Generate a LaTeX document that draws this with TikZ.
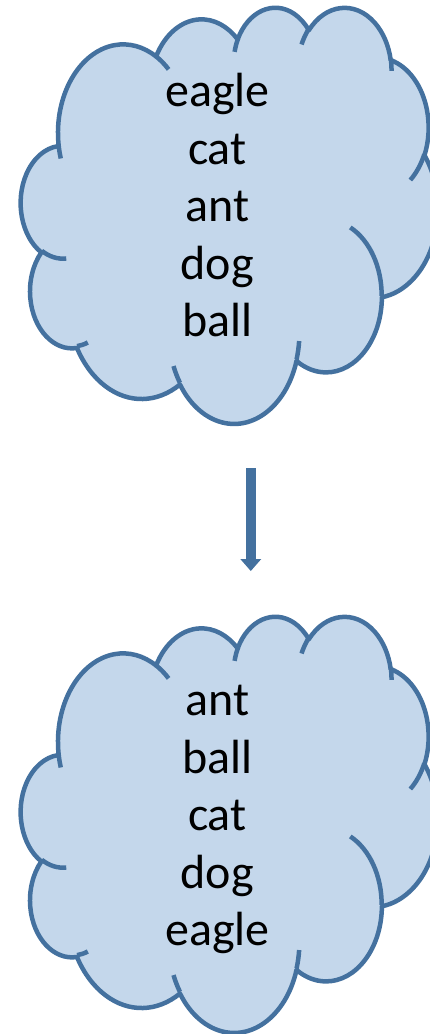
\documentclass[tikz,border=0pt]{standalone}
\usepackage{fontspec}
\setmainfont{Carlito}
\usetikzlibrary{arrows.meta}

\definecolor{cloudfill}{HTML}{C4D7EB}
\definecolor{cloudline}{HTML}{44719F}

\makeatletter
% DrawingML arc angles are "visual" angles; convert to the ellipse parameter
\newcommand\cloudparam[3]{% wR, hR, angle -> \cloudres
  \pgfmathsetmacro\cl@a{#3}%
  \pgfmathsetmacro\cl@t{atan2((#1)*sin(\cl@a),(#2)*cos(\cl@a))}%
  \pgfmathsetmacro\cl@d{\cl@t-\cl@a}%
  \pgfmathsetmacro\cloudres{\cl@a+\cl@d-360*round(\cl@d/360)}%
}
% elliptic arc from the current point: wR, hR, start angle, sweep
\newcommand\cloudarc[4]{%
  \cloudparam{#1}{#2}{#3}\let\cl@s\cloudres
  \cloudparam{#1}{#2}{#3+#4}\let\cl@e\cloudres
  \pgfpatharcaxes{\cl@s}{\cl@e}{\pgfpointxy{#1}{0}}{\pgfpointxy{0}{#2}}%
}
\makeatother

% outline of the cloud, in a 43.2 x 43.2 box (y pointing down)
\newcommand\cloudoutline{%
  \pgfpathmoveto{\pgfpointxy{3.900}{14.370}}%
  \cloudarc{6.753}{9.190}{-190.48748}{123.78053}%
  \cloudarc{5.333}{7.267}{-144.10238}{89.94523}%
  \cloudarc{4.365}{5.945}{-145.80792}{99.72302}%
  \cloudarc{4.857}{6.595}{-130.98607}{117.24173}%
  \cloudarc{5.333}{7.273}{-78.70888}{109.02692}%
  \cloudarc{6.775}{9.220}{-46.26725}{130.269}%
  \cloudarc{5.785}{7.867}{0.62502}{114.03333}%
  \cloudarc{6.752}{9.215}{22.4516}{115.17255}%
  \cloudarc{7.720}{10.543}{66.24263}{75.71102}%
  \cloudarc{4.360}{5.918}{-274.94208}{146.73557}%
  \cloudarc{4.345}{5.945}{-246.8285}{152.51885}%
  \pgfpathclose
}
% the short inner strokes between the puffs
\newcommand\cloudcreases{%
  \pgfpathmoveto{\pgfpointxy{4.693}{26.177}}\cloudarc{4.345}{5.945}{86.742}{26.4295}%
  \pgfpathmoveto{\pgfpointxy{6.928}{34.899}}\cloudarc{4.360}{5.918}{73.61047}{11.44747}%
  \pgfpathmoveto{\pgfpointxy{16.478}{39.090}}\cloudarc{6.752}{9.215}{137.62415}{14.0811}%
  \pgfpathmoveto{\pgfpointxy{28.827}{34.751}}\cloudarc{6.752}{9.215}{6.45327}{15.99835}%
  \pgfpathmoveto{\pgfpointxy{34.129}{22.954}}\cloudarc{5.785}{7.867}{-70.29235}{70.91737}%
  \pgfpathmoveto{\pgfpointxy{41.798}{15.354}}\cloudarc{5.333}{7.273}{30.31803}{27.7515}%
  \pgfpathmoveto{\pgfpointxy{38.324}{5.426}}\cloudarc{4.857}{6.595}{-13.74433}{14.8589}%
  \pgfpathmoveto{\pgfpointxy{29.078}{3.952}}\cloudarc{4.857}{6.595}{-149.18145}{18.19537}%
  \pgfpathmoveto{\pgfpointxy{22.141}{4.720}}\cloudarc{4.365}{5.945}{-163.49427}{17.68635}%
  \pgfpathmoveto{\pgfpointxy{14.000}{5.192}}\cloudarc{6.753}{9.190}{-66.70695}{12.31935}%
  \pgfpathmoveto{\pgfpointxy{4.127}{15.789}}\cloudarc{6.753}{9.190}{157.65435}{11.85817}%
}

\tikzset{
  cloudbox/.style={x={(9.65pt,0pt)}, y={(0pt,-9.63pt)}},
  cloudbody/.style={draw=cloudline, fill=cloudfill, line width=4.5pt, line join=round},
  cloudcrease/.style={draw=cloudline, line width=4.5pt},
  word/.style={font=\fontsize{48}{58}\selectfont, inner sep=0pt, anchor=base, text=black},
  flow/.style={draw=cloudline, line width=9.5pt,
    -{Triangle[width=21pt, length=12pt, line width=0pt]}},
}

\begin{document}
\begin{tikzpicture}[x=1pt, y=1pt]
\useasboundingbox (0,0) rectangle (429,-1034);

% unsorted cloud
\begin{scope}[shift={(20.95,-6.4)}, cloudbox]
  \path[cloudbody] \pgfextra{\cloudoutline};
  \path[cloudcrease] \pgfextra{\cloudcreases};
\end{scope}
\node[word] (u1) at (217.3,-106.5) {eagle};
\node[word] (u2) at (217.3,-164.1) {cat};
\node[word] (u3) at (217.3,-221.7) {ant};
\node[word] (u4) at (217.3,-279.3) {dog};
\node[word] (u5) at (217.3,-336.9) {ball};

% sorting step
\coordinate (arrowtop) at (250.8,-468.3);
\coordinate (arrowtip) at (250.8,-571);
\draw[flow] (arrowtop) -- (arrowtip);

% sorted cloud
\begin{scope}[shift={(20.95,-615.4)}, cloudbox]
  \path[cloudbody] \pgfextra{\cloudoutline};
  \path[cloudcrease] \pgfextra{\cloudcreases};
\end{scope}
\node[word] (s1) at (217.3,-715.5) {ant};
\node[word] (s2) at (217.3,-773.1) {ball};
\node[word] (s3) at (217.3,-830.7) {cat};
\node[word] (s4) at (217.3,-888.3) {dog};
\node[word] (s5) at (217.3,-945.9) {eagle};
\end{tikzpicture}
\end{document}
